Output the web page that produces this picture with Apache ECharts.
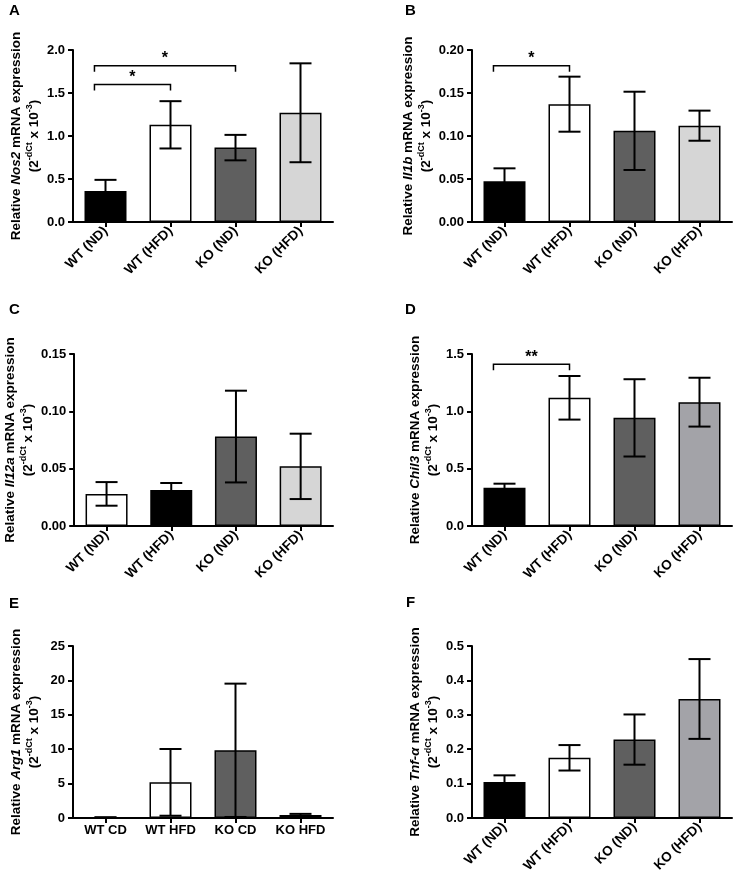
<!DOCTYPE html>
<html><head><meta charset="utf-8">
<script src="https://cdn.jsdelivr.net/npm/echarts@6/dist/echarts.min.js"></script>
<style>html,body{margin:0;padding:0;background:#fff}#c{width:737px;height:877px}</style>
</head><body><div id="c"></div>
<script>
// ---------- data ----------
const groupsND = ['WT (ND)', 'WT (HFD)', 'KO (ND)', 'KO (HFD)'];
const groupsCD = ['WT CD', 'WT HFD', 'KO CD', 'KO HFD'];

const nos2Mean = [0.36, 1.13, 0.865, 1.27];
const nos2Err  = [0.13, 0.275, 0.148, 0.575];
const nos2Brackets = [[0, 1, 1.60, '*'], [0, 2, 1.817, '*']];
const nos2Ticks = [0, 2.0, 0.5];

const il1bMean = [0.0474, 0.137, 0.106, 0.112];
const il1bErr  = [0.015, 0.032, 0.0455, 0.0175];
const il1bBrackets = [[0, 1, 0.1817, '*']];
const il1bTicks = [0, 0.20, 0.05];

const il12aMean = [0.028, 0.0315, 0.078, 0.052];
const il12aErr  = [0.0103, 0.006, 0.040, 0.0285];
const il12aBrackets = [];
const il12aTicks = [0, 0.15, 0.05];

const chil3Mean = [0.334, 1.118, 0.943, 1.08];
const chil3Err  = [0.035, 0.19, 0.337, 0.213];
const chil3Brackets = [[0, 1, 1.41, '**']];
const chil3Ticks = [0, 1.5, 0.5];

const arg1Mean = [0.08, 5.18, 9.84, 0.45];
const arg1Err  = [0.03, 4.85, 9.69, 0.15];
const arg1Brackets = [];
const arg1Ticks = [0, 25, 5];

const tnfMean = [0.105, 0.175, 0.228, 0.346];
const tnfErr  = [0.019, 0.037, 0.073, 0.116];
const tnfBrackets = [];
const tnfTicks = [0, 0.5, 0.1];

// ---------- style ----------
const FONT = '"Liberation Sans", Arial, Helvetica, sans-serif';
const BLACK = '#000000', WHITE = '#ffffff', DARK = '#5f5f5f', LIGHT = '#d6d6d6', MID = '#a3a3a8';

const panels = [
  {letter: 'A', gene: 'Nos2',  cats: groupsND, mean: nos2Mean,  err: nos2Err,  br: nos2Brackets,  ticks: nos2Ticks,  dec: 1, rot: 45, colors: [BLACK, WHITE, DARK, LIGHT], col: 0, row: 0},
  {letter: 'B', gene: 'Il1b',  cats: groupsND, mean: il1bMean,  err: il1bErr,  br: il1bBrackets,  ticks: il1bTicks,  dec: 2, rot: 45, colors: [BLACK, WHITE, DARK, LIGHT], col: 1, row: 0},
  {letter: 'C', gene: 'Il12a', cats: groupsND, mean: il12aMean, err: il12aErr, br: il12aBrackets, ticks: il12aTicks, dec: 2, rot: 45, colors: [WHITE, BLACK, DARK, LIGHT], col: 0, row: 1},
  {letter: 'D', gene: 'Chil3', cats: groupsND, mean: chil3Mean, err: chil3Err, br: chil3Brackets, ticks: chil3Ticks, dec: 1, rot: 45, colors: [BLACK, WHITE, DARK, MID],   col: 1, row: 1},
  {letter: 'E', gene: 'Arg1',  cats: groupsCD, mean: arg1Mean,  err: arg1Err,  br: arg1Brackets,  ticks: arg1Ticks,  dec: 0, rot: 0,  colors: [BLACK, WHITE, DARK, LIGHT], col: 0, row: 2},
  {letter: 'F', gene: 'Tnf-α', cats: groupsND, mean: tnfMean,   err: tnfErr,   br: tnfBrackets,   ticks: tnfTicks,   dec: 1, rot: 45, colors: [BLACK, WHITE, DARK, MID],   col: 1, row: 2}
];

const colLeft = [73, 472];
const rowTop = [50, 354, 646];
const letterPos = [[9, 3], [405, 3], [9, 302], [405, 302], [9, 596], [406, 595]];
const GW = 260, GH = 172;

const grids = [], xAxes = [], yAxes = [], series = [], titles = [];
const txt = {color: '#000', fontFamily: FONT, fontWeight: 'bold'};

panels.forEach((p, i) => {
  grids.push({left: colLeft[p.col], top: rowTop[p.row], width: GW, height: GH, containLabel: false});
  titles.push({text: p.letter, left: letterPos[i][0], top: letterPos[i][1], padding: 0, textStyle: Object.assign({}, txt, {fontSize: 15})});
  xAxes.push({
    type: 'category', gridIndex: i, data: p.cats, boundaryGap: true,
    axisLine: {show: true, lineStyle: {color: '#000', width: 2}},
    axisTick: {show: true, alignWithLabel: true, length: 5, lineStyle: {color: '#000', width: 2}},
    axisLabel: Object.assign({}, txt, {fontSize: p.rot ? 13.5 : 13, rotate: p.rot, margin: p.rot ? 7 : 6, interval: 0}),
    splitLine: {show: false}
  });
  yAxes.push({
    type: 'value', gridIndex: i, min: p.ticks[0], max: p.ticks[1], interval: p.ticks[2],
    axisLine: {show: true, lineStyle: {color: '#000', width: 2}},
    axisTick: {show: true, length: 5, lineStyle: {color: '#000', width: 2}},
    axisLabel: Object.assign({}, txt, {fontSize: 13, margin: 8, formatter: v => v.toFixed(p.dec)}),
    splitLine: {show: false},
    name: '{n|Relative }{i|' + p.gene + '}{n| mRNA expression}\n{n|(2}{s|-dCt}{n| x 10}{s|-3}{n|)}',
    nameLocation: 'middle', nameRotate: 90, nameGap: 30,
    nameTextStyle: Object.assign({}, txt, {fontSize: 13.5, lineHeight: 18, align: 'center',
      rich: {
        n: Object.assign({}, txt, {fontSize: 13.5, lineHeight: 18}),
        i: Object.assign({}, txt, {fontSize: 13.5, lineHeight: 18, fontStyle: 'italic'}),
        s: Object.assign({}, txt, {fontSize: 9, lineHeight: 18, verticalAlign: 'top', padding: [0, 0, 0, 0]})
      }})
  });
  series.push({
    type: 'bar', xAxisIndex: i, yAxisIndex: i, barWidth: 42, z: 2,
    data: p.mean.map((v, k) => ({value: v, itemStyle: {color: p.colors[k]}})),
    itemStyle: {borderColor: '#000', borderWidth: 1.5},
    emphasis: {disabled: true}, silent: true
  });
  series.push({
    type: 'custom', xAxisIndex: i, yAxisIndex: i, z: 3, silent: true,
    data: p.mean.map((m, k) => [k, m - p.err[k], m + p.err[k]]),
    encode: {x: 0, y: [1, 2]},
    renderItem: (params, api) => {
      const x = api.value(0);
      const hi = api.coord([x, api.value(2)]);
      const lo = api.coord([x, api.value(1)]);
      const cx = hi[0], hw = 11;
      const st = {stroke: '#000', lineWidth: 2};
      return {type: 'group', children: [
        {type: 'line', shape: {x1: cx, y1: hi[1], x2: cx, y2: lo[1]}, style: st},
        {type: 'line', shape: {x1: cx - hw, y1: hi[1], x2: cx + hw, y2: hi[1]}, style: st},
        {type: 'line', shape: {x1: cx - hw, y1: lo[1], x2: cx + hw, y2: lo[1]}, style: st}
      ]};
    }
  });
  if (p.br.length) {
    series.push({
      type: 'custom', xAxisIndex: i, yAxisIndex: i, z: 4, silent: true,
      data: p.br.map(b => [b[0], b[1], b[2]]),
      encode: {x: [0, 1], y: 2},
      renderItem: (params, api) => {
        const b = p.br[params.dataIndex];
        const band = api.size([1, 0])[0];
        const a = api.coord([api.value(0), api.value(2)]);
        const c = api.coord([api.value(1), api.value(2)]);
        const xl = a[0] - 0.17 * band, xr = c[0], y = a[1], arm = 6;
        const st = {stroke: '#000', lineWidth: 1.5, fill: null};
        return {type: 'group', children: [
          {type: 'polyline', shape: {points: [[xl, y + arm], [xl, y], [xr, y], [xr, y + arm]]}, style: st},
          {type: 'text', x: (xl + xr) / 2, y: y + 1, style: {text: b[3], fill: '#000', font: 'bold 16px ' + FONT, textAlign: 'center', textVerticalAlign: 'bottom'}}
        ]};
      }
    });
  }
});

const chart = echarts.init(document.getElementById('c'));
chart.setOption({
  backgroundColor: '#fff', animation: false,
  title: titles, grid: grids, xAxis: xAxes, yAxis: yAxes, series: series
});
</script>
</body></html>
